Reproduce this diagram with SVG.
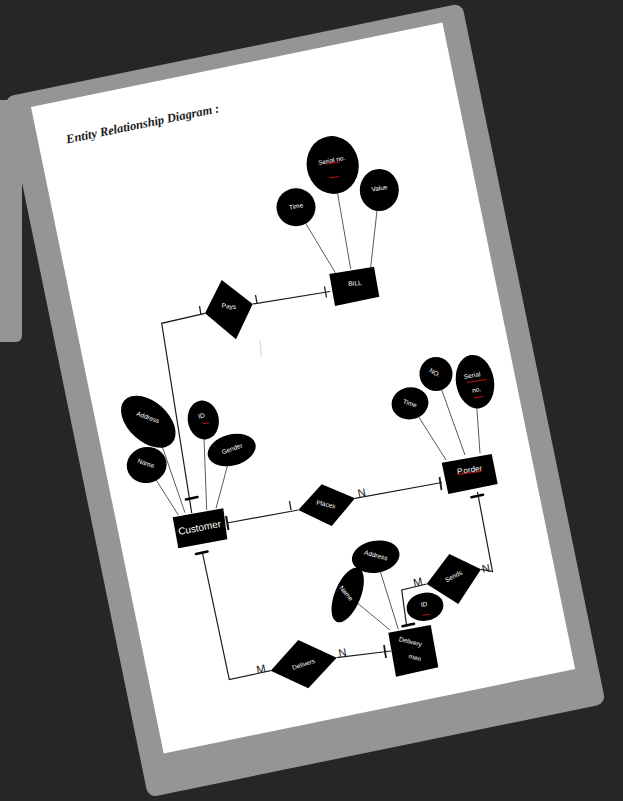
<svg xmlns="http://www.w3.org/2000/svg" width="623" height="801" viewBox="0 0 623 801">
<style>
.card{fill:#959595}
.shape{fill:#000}
.lbl{fill:#fff;font-family:"Liberation Sans Narrow","Liberation Sans",Arial,sans-serif;font-size:6.5px;text-anchor:middle;dominant-baseline:central}
.big{font-size:10px}
.card-lbl{fill:#111;font-family:"Liberation Sans Narrow","Liberation Sans",Arial,sans-serif;font-size:11px;text-anchor:middle;dominant-baseline:central}
.rel{stroke:#1a1a1a;stroke-width:1.2;fill:none}
.att{stroke:#5a5a5a;stroke-width:1;fill:none}
.tick{stroke:#1a1a1a;stroke-width:1.3}
.bar{stroke:#000;stroke-width:2.6;stroke-linecap:round}
.red{stroke:#c01010;stroke-width:1}
.title{font-family:"Liberation Serif","Times New Roman",serif;font-size:12.5px;font-weight:bold;font-style:italic;fill:#1a1a1a}
</style>
<rect width="623" height="801" fill="#262626"/>
<rect x="-10" y="100" width="32" height="242" rx="6" class="card"/>
<g id="page" transform="translate(31,107) rotate(-11.6)">
  <rect x="-24" y="-15" width="467" height="715" rx="9" class="card"/>
  <rect x="0" y="0" width="420" height="660" fill="#fff"/>
  <text class="title" x="28" y="43">Entity Relationship Diagram :</text>
</g>
<line x1="260" y1="340" x2="261.5" y2="357" stroke="#e2e2e2" stroke-width="1.5"/>

<g id="connectors">
  <path class="rel" d="M252.7,304 L330,291.5"/>
  <path class="rel" d="M205,313.3 L161.7,323.3 L191.7,513"/>
  <path class="rel" d="M227,523 L298.3,510"/>
  <path class="rel" d="M355,498.3 L442,482.5"/>
  <path class="rel" d="M477.5,492 L492.5,571.5 L481,569.3"/>
  <path class="rel" d="M426.7,584 L401.7,590 L406.5,625"/>
  <path class="rel" d="M202.5,553 L229.3,679.5 L270.7,670.7"/>
  <path class="rel" d="M336.7,657.7 L391,651"/>
  <path class="att" d="M296,207.3 L335.3,272.7"/>
  <path class="att" d="M332.7,165 L350.7,269"/>
  <path class="att" d="M379.3,190 L370.7,267"/>
  <path class="att" d="M146.7,465 L178.3,515"/>
  <path class="att" d="M161,443 L185,512.7"/>
  <path class="att" d="M203.3,420 L206.7,510"/>
  <path class="att" d="M231.7,450 L216,508.3"/>
  <path class="att" d="M410,403 L446,460"/>
  <path class="att" d="M436,374 L465,455"/>
  <path class="att" d="M475,382 L480,453.3"/>
  <path class="att" d="M347.7,595 L390,630"/>
  <path class="att" d="M375.7,556.7 L398.3,629.3"/>
  <line class="tick" x1="255.5" y1="295" x2="257" y2="303"/>
  <line class="tick" x1="324.5" y1="286.5" x2="326.5" y2="297.5"/>
  <line class="tick" x1="199.5" y1="306" x2="201" y2="315"/>
  <line class="tick" x1="289.5" y1="501" x2="291" y2="510"/>
  <line class="tick" x1="226" y1="516" x2="228.5" y2="530" style="stroke-width:2.2"/>
  <line class="tick" x1="439.5" y1="477" x2="441.5" y2="490" style="stroke-width:1.8"/>
  <line class="tick" x1="384" y1="645" x2="386" y2="658" style="stroke-width:1.8"/>
  <line class="bar" x1="186" y1="499.5" x2="197.5" y2="497.1"/>
  <line class="bar" x1="196" y1="553.9" x2="207.5" y2="551.5"/>
  <line class="bar" x1="471.5" y1="497.2" x2="483" y2="494.8"/>
  <line class="bar" x1="402.5" y1="626.2" x2="414" y2="623.8"/>
  <text class="card-lbl" transform="translate(361.7,492.5) rotate(-11)">N</text>
  <text class="card-lbl" transform="translate(486,568) rotate(-11)">N</text>
  <text class="card-lbl" transform="translate(417.7,581.7) rotate(-11)">M</text>
  <text class="card-lbl" transform="translate(261,668.7) rotate(-11)">M</text>
  <text class="card-lbl" transform="translate(342.5,652.3) rotate(-11)">N</text>
</g>

<g id="bill">
  <polygon class="shape" points="329.3,274 374,266.7 379.3,296.7 335,306"/>
  <text class="lbl" transform="translate(355,283) rotate(-5)">BILL</text>
</g>
<g id="bill-time">
  <ellipse class="shape" cx="296" cy="207.3" rx="19.5" ry="19"/>
  <text class="lbl" transform="translate(296,206) rotate(-11)">Time</text>
</g>
<g id="bill-serial">
  <ellipse class="shape" cx="332.7" cy="165" rx="26" ry="29" transform="rotate(-10 332.7 165)"/>
  <text class="lbl" transform="translate(331.7,160) rotate(-11)">Serial no.</text>
  <line class="red" x1="326.7" y1="164" x2="340" y2="162"/>
  <line class="red" x1="329.3" y1="178" x2="339.3" y2="176.5"/>
</g>
<g id="bill-value">
  <ellipse class="shape" cx="379.3" cy="190" rx="19.5" ry="21"/>
  <text class="lbl" transform="translate(379.3,188) rotate(-8)">Value</text>
</g>
<g id="pays">
  <polygon class="shape" points="221.7,280 252.7,304 236,339.3 205,313.3"/>
  <text class="lbl" transform="translate(229,306) rotate(5)">Pays</text>
</g>
<g id="customer">
  <polygon class="shape" points="172.7,517.3 223.3,508.3 227.3,539.3 178.3,548.3"/>
  <text class="lbl big" transform="translate(199.5,527.5) rotate(-11)">Customer</text>
</g>
<g id="cust-address">
  <ellipse class="shape" cx="148.3" cy="421.7" rx="32" ry="20" transform="rotate(42 148.3 421.7)"/>
  <text class="lbl" transform="translate(148,417) rotate(20)">Address</text>
</g>
<g id="cust-name">
  <ellipse class="shape" cx="146.7" cy="465" rx="20" ry="18" transform="rotate(-10 146.7 465)"/>
  <text class="lbl" transform="translate(146,463) rotate(20)">Name</text>
</g>
<g id="cust-id">
  <ellipse class="shape" cx="203.3" cy="420" rx="15.5" ry="19.5" transform="rotate(-10 203.3 420)"/>
  <text class="lbl" transform="translate(201.5,415.5) rotate(-11)">ID</text>
  <line class="red" x1="202.7" y1="423.8" x2="209.3" y2="422.8"/>
</g>
<g id="cust-gender">
  <ellipse class="shape" cx="231.7" cy="450" rx="24.5" ry="15.5" transform="rotate(-15 231.7 450)"/>
  <text class="lbl" transform="translate(232,448.5) rotate(-20)">Gender</text>
</g>
<g id="places">
  <polygon class="shape" points="298.3,510 321.7,484.3 355,498.3 331.7,526"/>
  <text class="lbl" transform="translate(326,504) rotate(12)">Places</text>
</g>
<g id="porder">
  <polygon class="shape" points="441.7,462.7 491.7,454 497.7,484 448.3,494"/>
  <text class="lbl big" style="font-size:8px" transform="translate(469.5,470) rotate(-8)">P.order</text>
  <line class="red" x1="457.3" y1="474.5" x2="481.7" y2="471.5"/>
</g>
<g id="porder-time">
  <ellipse class="shape" cx="410" cy="403.3" rx="18.5" ry="16" transform="rotate(-10 410 403.3)"/>
  <text class="lbl" transform="translate(410,403) rotate(18)">Time</text>
</g>
<g id="porder-no">
  <ellipse class="shape" cx="436" cy="374" rx="16.5" ry="17"/>
  <text class="lbl" transform="translate(435,372.5) rotate(30)">NO.</text>
</g>
<g id="porder-serial">
  <ellipse class="shape" cx="475" cy="381.7" rx="19" ry="27" transform="rotate(-10 475 381.7)"/>
  <text class="lbl" transform="translate(472,375) rotate(-10)">Serial</text>
  <line class="red" x1="466.7" y1="382.5" x2="486.7" y2="379.5"/>
  <text class="lbl" transform="translate(476.5,389.5) rotate(-10)">no.</text>
  <line class="red" x1="474" y1="398" x2="483.3" y2="396.5"/>
</g>
<g id="sends">
  <polygon class="shape" points="449.3,554 481,569.3 458.3,604 426.7,584"/>
  <text class="lbl" transform="translate(453.5,576) rotate(-28)">Sends</text>
</g>
<g id="delivery-men">
  <polygon class="shape" points="388.3,632.7 430.7,625 438.3,667.3 396,676.7"/>
  <text class="lbl" transform="translate(410.5,641.5) rotate(15)">Delivery</text>
  <text class="lbl" transform="translate(415,657.3) rotate(15)">men</text>
</g>
<g id="dm-address">
  <ellipse class="shape" cx="375.7" cy="556.7" rx="24" ry="16" transform="rotate(-10 375.7 556.7)"/>
  <text class="lbl" transform="translate(376,555) rotate(15)">Address</text>
</g>
<g id="dm-name">
  <ellipse class="shape" cx="347.7" cy="595" rx="13" ry="29" transform="rotate(22 347.7 595)"/>
  <text class="lbl" transform="translate(346.5,593) rotate(50)">Name</text>
</g>
<g id="dm-id">
  <ellipse class="shape" cx="425" cy="606.7" rx="18.5" ry="14" transform="rotate(-10 425 606.7)"/>
  <text class="lbl" transform="translate(424,604) rotate(-11)">ID</text>
  <line class="red" x1="422.7" y1="615.3" x2="430" y2="614.3"/>
</g>
<g id="delivers">
  <polygon class="shape" points="270.7,670.7 298.3,640 336.7,657.7 308.3,688.3"/>
  <text class="lbl" transform="translate(303.5,664) rotate(-18)">Delivers</text>
</g>
</svg>
